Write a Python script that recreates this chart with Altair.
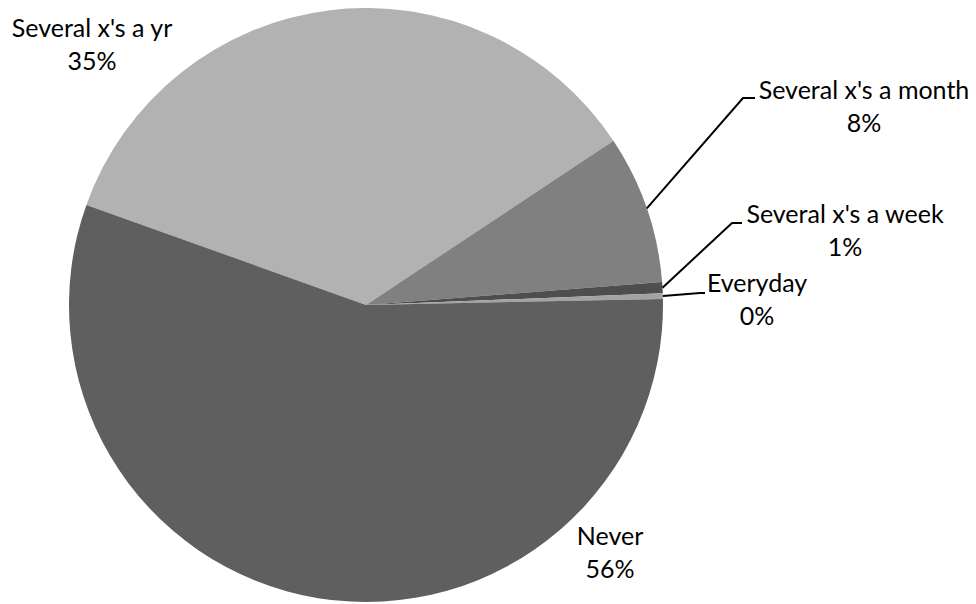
import math
import altair as alt
import pandas as pd

# ---- data ----
categories = ["Several x's a yr", "Several x's a month", "Several x's a week", "Everyday", "Never"]
values = [35.2, 8.1, 0.6, 0.3, 55.8]
pct_labels = ["35%", "8%", "1%", "0%", "56%"]
colors = ["#b2b2b2", "#808080", "#4e4e4e", "#a3a3a3", "#5f5f5f"]

# ---- layout (pixels, relative to pie centre, y up) ----
START_DEG = 289.7
R = 297
CX, CY = 358, 297
W, H = 716, 594
OFF = 2  # vertical shift of pie centre vs. reference (labels keep page position)
label_dx = [-274, 498, 479, 391, 244]
label_dy = [266 + OFF, 204 + OFF, 80 + OFF, 11 + OFF, -242 + OFF]
leader_cats = ["Several x's a month", "Several x's a week", "Everyday"]
leader_elbow = [(377, 205 + OFF), (366, 80 + OFF), (334, 10 + OFF)]
leader_end = [(389, 205 + OFF), (376, 80 + OFF), (339, 10 + OFF)]

total = sum(values)
df = pd.DataFrame({"cat": categories, "value": values, "idx": range(len(categories))})

lab = pd.DataFrame({
    "cat": categories,
    "text": [f"{c}\n{p}" for c, p in zip(categories, pct_labels)],
    "x": label_dx,
    "y": label_dy,
})

cum = 0.0
mids = {}
for c, v in zip(categories, values):
    mids[c] = math.radians(START_DEG + 360 * (cum + v / 2) / total)
    cum += v
rows = []
for c, e, f in zip(leader_cats, leader_elbow, leader_end):
    a = mids[c]
    rows.append({"cat": c, "o": 0, "x": R * math.sin(a), "y": R * math.cos(a)})
    rows.append({"cat": c, "o": 1, "x": e[0], "y": e[1]})
    rows.append({"cat": c, "o": 2, "x": f[0], "y": f[1]})
lead = pd.DataFrame(rows)

xs = alt.Scale(domain=[-CX, W - CX], nice=False, zero=False)
ys = alt.Scale(domain=[CY - H, CY], nice=False, zero=False)

a0 = math.radians(START_DEG)
pie = alt.Chart(df).mark_arc(radius=R, stroke=None).encode(
    theta=alt.Theta("value:Q", stack=True, scale=alt.Scale(range=[a0, a0 + 2 * math.pi])),
    order=alt.Order("idx:Q"),
    color=alt.Color("cat:N", scale=alt.Scale(domain=categories, range=colors), legend=None),
)

leaders = alt.Chart(lead).mark_line(color="#000000", strokeWidth=2).encode(
    x=alt.X("x:Q", scale=xs, axis=None),
    y=alt.Y("y:Q", scale=ys, axis=None),
    detail="cat:N",
    order="o:Q",
)

labels = alt.Chart(lab).mark_text(
    font="Lato", fontSize=25, lineBreak="\n", lineHeight=33,
    align="center", baseline="alphabetic", color="#000000",
).encode(
    x=alt.X("x:Q", scale=xs, axis=None),
    y=alt.Y("y:Q", scale=ys, axis=None),
    text="text:N",
)

chart = alt.layer(pie, leaders, labels).properties(
    width=W, height=H, autosize="none",
    padding={"left": 0, "top": 0, "right": 244, "bottom": 0},
).configure_view(stroke=None)

chart.save("out.html", embed_options={"renderer": "svg", "actions": False})
